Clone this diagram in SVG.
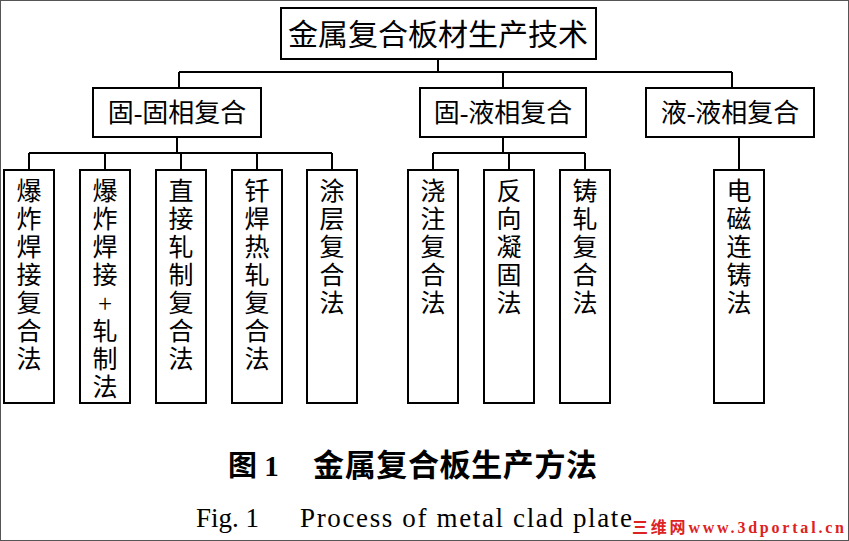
<svg xmlns="http://www.w3.org/2000/svg" width="849" height="541" viewBox="0 0 849 541">
<style>
.b{fill:#fff;stroke:#000;stroke-width:2}
.l{stroke:#000;stroke-width:2;fill:none}
text{font-family:"Liberation Serif","Noto Sans CJK SC",serif;fill:#000}
.t{font-size:30px;text-anchor:middle}
.s{font-size:26px;text-anchor:middle}
.v{font-size:25px;text-anchor:middle}
</style>
<rect x="0.5" y="0.5" width="848" height="540" fill="#fff" stroke="#555"/>
<g id="connectors">
<path class="l" d="M438 60V72M179 72H732M179 72V88M503 72V88M732 72V88"/>
<path class="l" d="M177 137V153M29 153H332M29 153V170M105 153V170M181 153V170M257 153V170M332 153V170"/>
<path class="l" d="M503 137V153M433 153H585M433 153V170M509 153V170M585 153V170"/>
<path class="l" d="M739 137V170"/>
</g>
<g id="root"><rect class="b" x="281" y="8" width="315" height="51"/><text class="t" x="438" y="45">金属复合板材生产技术</text></g>
<g id="ss"><rect class="b" x="93" y="88" width="168" height="49"/><text class="s" x="177" y="122">固-固相复合</text></g>
<g id="sl"><rect class="b" x="420" y="88" width="166" height="49"/><text class="s" x="503" y="122">固-液相复合</text></g>
<g id="ll"><rect class="b" x="646" y="88" width="168" height="49"/><text class="s" x="730" y="122">液-液相复合</text></g>
<g id="n1"><rect class="b" x="4" y="170" width="50" height="233"/><text class="v"><tspan x="29" y="200">爆</tspan><tspan x="29" y="228">炸</tspan><tspan x="29" y="256">焊</tspan><tspan x="29" y="284">接</tspan><tspan x="29" y="312">复</tspan><tspan x="29" y="340">合</tspan><tspan x="29" y="368">法</tspan></text></g>
<g id="n2"><rect class="b" x="80" y="170" width="50" height="233"/><text class="v"><tspan x="105" y="200">爆</tspan><tspan x="105" y="228">炸</tspan><tspan x="105" y="256">焊</tspan><tspan x="105" y="284">接</tspan><tspan x="105" y="312">+</tspan><tspan x="105" y="340">轧</tspan><tspan x="105" y="368">制</tspan><tspan x="105" y="396">法</tspan></text></g>
<g id="n3"><rect class="b" x="156" y="170" width="50" height="233"/><text class="v"><tspan x="181" y="200">直</tspan><tspan x="181" y="228">接</tspan><tspan x="181" y="256">轧</tspan><tspan x="181" y="284">制</tspan><tspan x="181" y="312">复</tspan><tspan x="181" y="340">合</tspan><tspan x="181" y="368">法</tspan></text></g>
<g id="n4"><rect class="b" x="232" y="170" width="50" height="233"/><text class="v"><tspan x="257" y="200">钎</tspan><tspan x="257" y="228">焊</tspan><tspan x="257" y="256">热</tspan><tspan x="257" y="284">轧</tspan><tspan x="257" y="312">复</tspan><tspan x="257" y="340">合</tspan><tspan x="257" y="368">法</tspan></text></g>
<g id="n5"><rect class="b" x="307" y="170" width="50" height="233"/><text class="v"><tspan x="332" y="200">涂</tspan><tspan x="332" y="228">层</tspan><tspan x="332" y="256">复</tspan><tspan x="332" y="284">合</tspan><tspan x="332" y="312">法</tspan></text></g>
<g id="n6"><rect class="b" x="408" y="170" width="50" height="233"/><text class="v"><tspan x="433" y="200">浇</tspan><tspan x="433" y="228">注</tspan><tspan x="433" y="256">复</tspan><tspan x="433" y="284">合</tspan><tspan x="433" y="312">法</tspan></text></g>
<g id="n7"><rect class="b" x="484" y="170" width="50" height="233"/><text class="v"><tspan x="509" y="200">反</tspan><tspan x="509" y="228">向</tspan><tspan x="509" y="256">凝</tspan><tspan x="509" y="284">固</tspan><tspan x="509" y="312">法</tspan></text></g>
<g id="n8"><rect class="b" x="560" y="170" width="50" height="233"/><text class="v"><tspan x="585" y="200">铸</tspan><tspan x="585" y="228">轧</tspan><tspan x="585" y="256">复</tspan><tspan x="585" y="284">合</tspan><tspan x="585" y="312">法</tspan></text></g>
<g id="n9"><rect class="b" x="714" y="170" width="50" height="233"/><text class="v"><tspan x="739" y="200">电</tspan><tspan x="739" y="228">磁</tspan><tspan x="739" y="256">连</tspan><tspan x="739" y="284">铸</tspan><tspan x="739" y="312">法</tspan></text></g>
<text x="228" y="476" font-size="29" font-weight="bold">图 1</text>
<text x="313" y="476" font-size="31" font-weight="bold" textLength="284">金属复合板生产方法</text>
<text x="196" y="527" font-size="27">Fig. 1</text>
<text x="300" y="527" font-size="27" textLength="332">Process of  metal clad plate</text>
<text x="632" y="533" font-size="16" font-weight="bold" style="fill:#d22" textLength="212">三维网www.3dportal.cn</text>
</svg>
